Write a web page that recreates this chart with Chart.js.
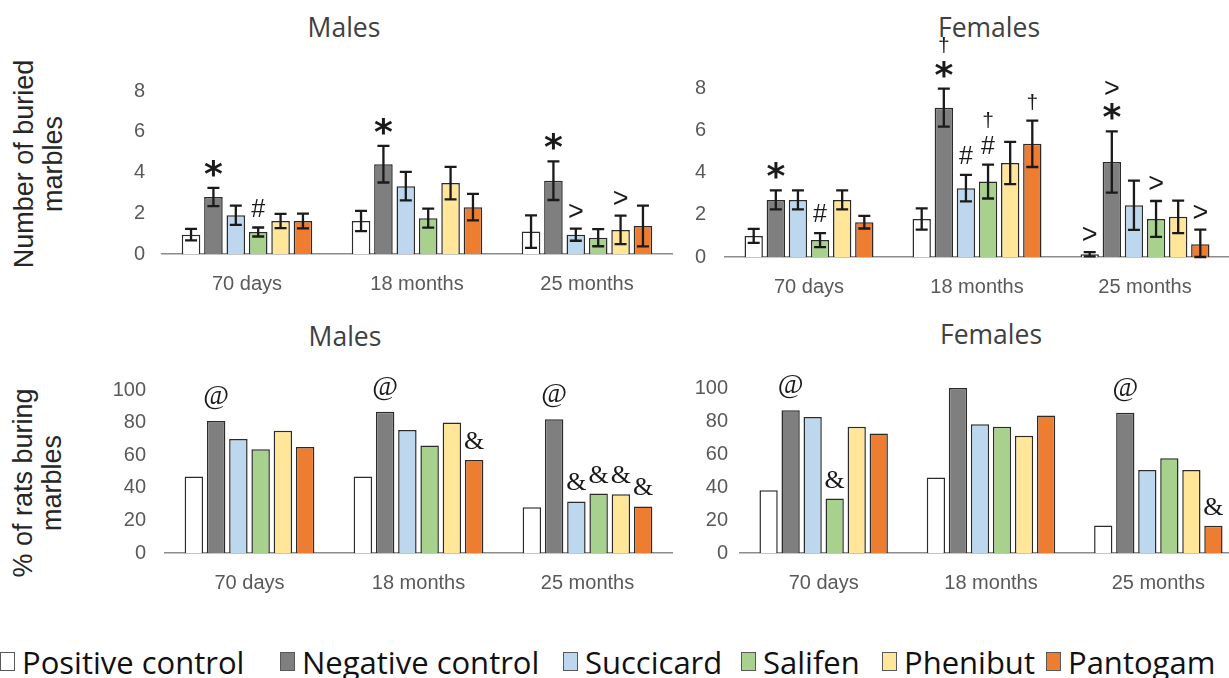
<!DOCTYPE html>
<html>
<head>
<meta charset="utf-8">
<script src="https://cdn.jsdelivr.net/npm/chart.js@4.4.1/dist/chart.umd.min.js"></script>
<style>
  body { margin: 0; width: 1229px; height: 678px; overflow: hidden; background: #fff; position: relative; font-family: 'Liberation Sans', Arial, sans-serif; }
  canvas { position: absolute; }
  .title { position: absolute; font-family: 'Open Sans', sans-serif; font-size: 26.5px; color: #404040; transform: translate(-50%, -50%); white-space: nowrap; }
  .ylab { position: absolute; font-size: 27px; line-height: 29px; color: #262626; text-align: center; transform: translate(-50%, -50%) rotate(-90deg); white-space: nowrap; }
  .leg { position: absolute; top: 662px; transform: translateY(-50%); font-family: 'Open Sans', sans-serif; font-size: 31px; color: #111; white-space: nowrap; }
  .sq { position: absolute; top: 652px; width: 15px; height: 19px; border: 1px solid #595959; box-sizing: border-box; }
</style>
</head>
<body>

<div class="title" style="left:344px; top:27px">Males</div>
<div class="title" style="left:989px; top:27px">Females</div>
<div class="title" style="left:345px; top:336px">Males</div>
<div class="title" style="left:991px; top:334px">Females</div>

<div class="ylab" style="left:39px; top:164px">Number of buried<br>marbles</div>
<div class="ylab" style="left:38px; top:483px">% of rats buring<br>marbles</div>

<canvas id="mMarbles" width="640" height="320" style="left:60px; top:0px"></canvas>
<canvas id="fMarbles" width="600" height="320" style="left:640px; top:0px"></canvas>
<canvas id="mPct" width="640" height="260" style="left:60px; top:345px"></canvas>
<canvas id="fPct" width="620" height="260" style="left:660px; top:345px"></canvas>

<div id="legend"></div>

<script>
// the x categories and the six groups, same for all four panels
var categories = ['70 days', '18 months', '25 months']
var seriesNames = ['Positive control', 'Negative control', 'Succicard', 'Salifen', 'Phenibut', 'Pantogam']
var seriesColors = ['#ffffff', '#7f7f7f', '#bdd7ee', '#a9d18e', '#ffe699', '#ed7d31']

var marbleTicks = [0, 2, 4, 6, 8]
var pctTicks = [0, 20, 40, 60, 80, 100]

// Number of buried marbles, males (one array per group, values per category)
var malePositive = [0.95, 1.62, 1.1]
var maleNegative = [2.8, 4.41, 3.6]
var maleSuccicard = [1.9, 3.33, 0.95]
var maleSalifen = [1.08, 1.76, 0.8]
var malePhenibut = [1.62, 3.48, 1.18]
var malePantogam = [1.62, 2.3, 1.37]
// and the error bars (+/-)
var malePositiveErr = [0.28, 0.5, 0.8]
var maleNegativeErr = [0.45, 0.9, 0.95]
var maleSuccicardErr = [0.47, 0.7, 0.3]
var maleSalifenErr = [0.22, 0.47, 0.42]
var malePhenibutErr = [0.35, 0.8, 0.7]
var malePantogamErr = [0.36, 0.65, 1.0]

// Number of buried marbles, females
var femalePositive = [1.0, 1.8, 0.13]
var femaleNegative = [2.7, 7.07, 4.5]
var femaleSuccicard = [2.7, 3.26, 2.45]
var femaleSalifen = [0.8, 3.57, 1.8]
var femalePhenibut = [2.7, 4.45, 1.9]
var femalePantogam = [1.65, 5.36, 0.6]
var femalePositiveErr = [0.33, 0.5, 0.1]
var femaleNegativeErr = [0.45, 0.9, 1.45]
var femaleSuccicardErr = [0.45, 0.63, 1.17]
var femaleSalifenErr = [0.33, 0.8, 0.85]
var femalePhenibutErr = [0.45, 1.0, 0.77]
var femalePantogamErr = [0.3, 1.1, 0.7]

// % of rats burying marbles
var malePctPositive = [47, 47, 28]
var malePctNegative = [81, 86.7, 82]
var malePctSuccicard = [70, 75.5, 31.6]
var malePctSalifen = [63.7, 66, 36.5]
var malePctPhenibut = [75, 80, 36]
var malePctPantogam = [65, 57, 28.6]

var femalePctPositive = [38, 45.7, 16.7]
var femalePctNegative = [86.5, 100, 85]
var femalePctSuccicard = [82.5, 78, 50.3]
var femalePctSalifen = [33, 76.5, 57.5]
var femalePctPhenibut = [76.5, 71, 50.3]
var femalePctPantogam = [72.4, 83.3, 16.5]

// significance marks: [category, group, symbols from bottom to top]
var maleMarbleMarks = [[0, 1, '*'], [0, 3, '#'], [1, 1, '*'], [2, 1, '*'], [2, 2, '>'], [2, 4, '>']]
var femaleMarbleMarks = [[0, 1, '*'], [0, 3, '#'], [1, 1, '*†'], [1, 2, '#'], [1, 3, '#†'], [1, 5, '†'],
                         [2, 0, '>'], [2, 1, '*>'], [2, 3, '>'], [2, 5, '>']]
var malePctMarks = [[0, 1, '@'], [1, 1, '@'], [1, 5, '&'], [2, 1, '@'], [2, 2, '&'], [2, 3, '&'], [2, 4, '&'], [2, 5, '&']]
var femalePctMarks = [[0, 1, '@'], [0, 3, '&'], [2, 1, '@'], [2, 5, '&']]

// fonts for each kind of mark
var markFonts = {
    '*': 'bold 36px "DejaVu Sans"',
    '#': '25px "Liberation Sans"',
    '>': '27px "Liberation Sans"',
    '†': '21px "Liberation Sans"',
    '@': '28px "Liberation Serif"',
    '&': '26px "Liberation Serif"'
}

// draws the +/- error bars from the dataset's "errors" array
var errorBarPlugin = {
    id: 'errBars',
    afterDatasetsDraw: function (chart) {
        var ctx = chart.ctx, y = chart.scales.y
        ctx.save()
        ctx.strokeStyle = '#1a1a1a'
        ctx.lineWidth = 2.3
        chart.data.datasets.forEach(function (ds, i) {
            if (!ds.errors) return
            chart.getDatasetMeta(i).data.forEach(function (bar, j) {
                var v = ds.data[j], e = ds.errors[j]
                var top = y.getPixelForValue(v + e)
                var bot = y.getPixelForValue(Math.max(0, v - e))
                ctx.beginPath()
                ctx.moveTo(bar.x, top); ctx.lineTo(bar.x, bot)
                ctx.moveTo(bar.x - 6, top); ctx.lineTo(bar.x + 6, top)
                ctx.moveTo(bar.x - 6, bot); ctx.lineTo(bar.x + 6, bot)
                ctx.stroke()
            })
        })
        ctx.restore()
    }
}

// draws the little significance symbols above bars (or above their error bars)
var marksPlugin = {
    id: 'sigMarks',
    afterDatasetsDraw: function (chart) {
        var ctx = chart.ctx, y = chart.scales.y
        ctx.save()
        ctx.fillStyle = '#1a1a1a'
        ctx.textAlign = 'center'
        ctx.textBaseline = 'alphabetic'
        chart.data.datasets.forEach(function (ds, i) {
            if (!ds.marks) return
            chart.getDatasetMeta(i).data.forEach(function (bar, j) {
                var syms = ds.marks[j]
                if (!syms) return
                var e = ds.errors ? ds.errors[j] : 0
                var bottom = y.getPixelForValue(ds.data[j] + e) - 11
                Array.from(syms).forEach(function (s) {
                    ctx.font = markFonts[s]
                    var m = ctx.measureText(s)
                    ctx.fillText(s, bar.x, bottom - m.actualBoundingBoxDescent)
                    bottom -= m.actualBoundingBoxAscent + m.actualBoundingBoxDescent + 8
                })
            })
        })
        ctx.restore()
    }
}

// build one panel. area = where the plot box should sit on the page
function makePanel(id, values, errors, marks, ticks, area, tickPad) {
    var canvas = document.getElementById(id)
    var cx = parseFloat(canvas.style.left), cy = parseFloat(canvas.style.top)
    var yw = 60, xh = 40

    var datasets = []
    for (var i = 0; i < seriesNames.length; i++) {
        var m = categories.map(function () { return '' })
        marks.forEach(function (mk) { if (mk[1] === i) m[mk[0]] = mk[2] })
        datasets.push({
            label: seriesNames[i],
            data: values[i],
            errors: errors ? errors[i] : null,
            marks: m,
            backgroundColor: seriesColors[i],
            borderColor: '#2b2b2b',
            borderWidth: 1.5,
            categoryPercentage: 0.79,
            barPercentage: 0.83
        })
    }

    var config = {
        type: 'bar',
        data: { labels: categories, datasets: datasets },
        options: {
            responsive: false,
            animation: false,
            devicePixelRatio: 1,
            layout: {
                padding: {
                    left: area.left - cx - yw,
                    right: cx + canvas.width - area.right,
                    top: area.top - cy,
                    bottom: cy + canvas.height - area.bottom - xh
                }
            },
            plugins: { legend: { display: false }, tooltip: { enabled: false } },
            scales: {
                x: {
                    grid: { display: false, drawTicks: false },
                    border: { display: true, color: '#8c8c8c', width: 1.5 },
                    ticks: { font: { family: 'Liberation Sans', size: 20 }, color: '#595959', padding: 18 },
                    afterFit: function (s) { s.height = xh }
                },
                y: {
                    min: ticks[0],
                    max: ticks[ticks.length - 1],
                    afterBuildTicks: function (s) { s.ticks = ticks.map(function (v) { return { value: v } }) },
                    grid: { display: false, drawTicks: false },
                    border: { display: false },
                    ticks: { font: { family: 'Liberation Sans', size: 20 }, color: '#595959', padding: tickPad },
                    afterFit: function (s) { s.width = yw }
                }
            }
        },
        plugins: [errorBarPlugin, marksPlugin]
    }
    return new Chart(canvas.getContext('2d'), config)
}

makePanel('mMarbles',
    [malePositive, maleNegative, maleSuccicard, maleSalifen, malePhenibut, malePantogam],
    [malePositiveErr, maleNegativeErr, maleSuccicardErr, maleSalifenErr, malePhenibutErr, malePantogamErr],
    maleMarbleMarks, marbleTicks, { left: 162, right: 672, top: 91, bottom: 254 }, 17)

makePanel('fMarbles',
    [femalePositive, femaleNegative, femaleSuccicard, femaleSalifen, femalePhenibut, femalePantogam],
    [femalePositiveErr, femaleNegativeErr, femaleSuccicardErr, femaleSalifenErr, femalePhenibutErr, femalePantogamErr],
    femaleMarbleMarks, marbleTicks, { left: 725, right: 1229, top: 88, bottom: 257 }, 19)

makePanel('mPct',
    [malePctPositive, malePctNegative, malePctSuccicard, malePctSalifen, malePctPhenibut, malePctPantogam],
    null, malePctMarks, pctTicks, { left: 165, right: 672, top: 390, bottom: 553 }, 19)

makePanel('fPct',
    [femalePctPositive, femalePctNegative, femalePctSuccicard, femalePctSalifen, femalePctPhenibut, femalePctPantogam],
    null, femalePctMarks, pctTicks, { left: 740, right: 1242, top: 388, bottom: 553 }, 12)

// legend along the bottom, squares + names
var legendLefts = [0, 280, 563, 741, 882, 1046]
var legend = document.getElementById('legend')
seriesNames.forEach(function (name, i) {
    var sq = document.createElement('div')
    sq.className = 'sq'
    sq.style.left = legendLefts[i] + 'px'
    sq.style.background = seriesColors[i]
    legend.appendChild(sq)
    var t = document.createElement('div')
    t.className = 'leg'
    t.style.left = (legendLefts[i] + 22) + 'px'
    t.textContent = name
    legend.appendChild(t)
})
</script>
</body>
</html>
